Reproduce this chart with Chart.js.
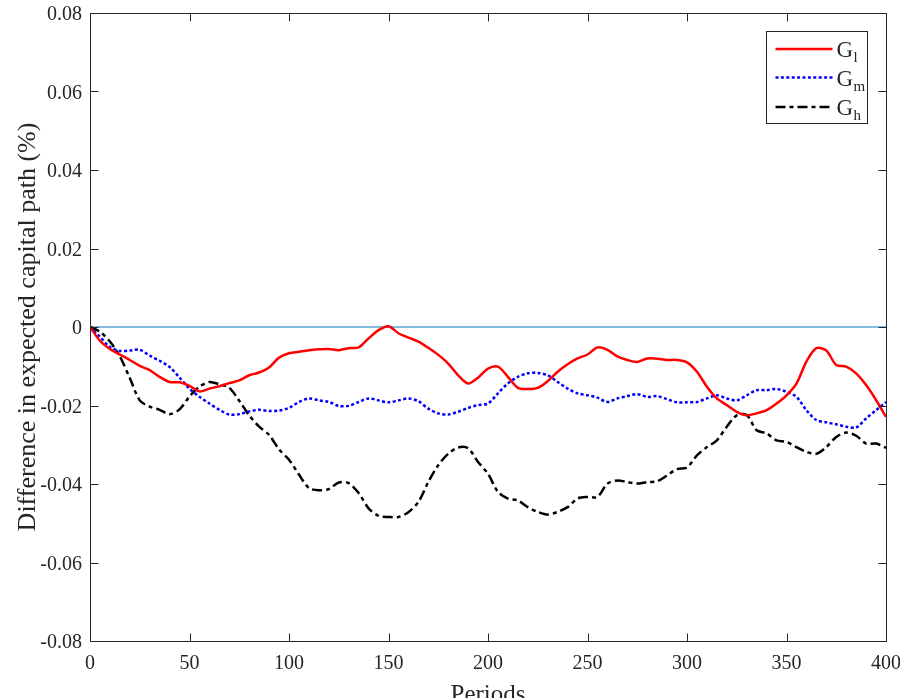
<!DOCTYPE html>
<html>
<head>
<meta charset="utf-8">
<script src="https://cdn.jsdelivr.net/npm/chart.js@4.4.1/dist/chart.umd.min.js"></script>
<style>
  html, body { margin: 0; padding: 0; width: 900px; height: 698px; overflow: hidden; background: #fff; }
  #wrap { position: absolute; left: 0; top: 0; width: 900px; height: 715px; }
</style>
</head>
<body>
<div id="wrap"><canvas id="chart"></canvas></div>
<script>
// periods on the x axis
const periods = [0, 5, 10, 15, 20, 25, 30, 35, 40, 45, 50, 55, 60, 65, 70, 75, 80, 85, 90, 95,
  100, 105, 110, 115, 120, 125, 130, 135, 140, 145, 150, 155, 160, 165, 170, 175, 180, 185, 190, 195,
  200, 205, 210, 215, 220, 225, 230, 235, 240, 245, 250, 255, 260, 265, 270, 275, 280, 285, 290, 295,
  300, 305, 310, 315, 320, 325, 330, 335, 340, 345, 350, 355, 360, 365, 370, 375, 380, 385, 390, 395, 400];

// G_l (red, solid)
const gLow = [0, -0.0035, -0.0056, -0.0070, -0.0084, -0.0099, -0.0110, -0.0127, -0.0140, -0.0141,
  -0.0150, -0.0164, -0.0157, -0.0151, -0.0143, -0.0136, -0.0123, -0.0116, -0.0103, -0.0078,
  -0.0067, -0.0063, -0.0059, -0.0057, -0.0056, -0.0059, -0.0054, -0.0052, -0.0029, -0.0008,
  0.0002, -0.0016, -0.0027, -0.0037, -0.0053, -0.0071, -0.0093, -0.0123, -0.0144, -0.0129,
  -0.0106, -0.0101, -0.0127, -0.0155, -0.0158, -0.0155, -0.0138, -0.0114, -0.0095, -0.0080,
  -0.0070, -0.0052, -0.0058, -0.0075, -0.0084, -0.0089, -0.0080, -0.0081, -0.0084, -0.0084,
  -0.0090, -0.0114, -0.0152, -0.0182, -0.0199, -0.0216, -0.0225, -0.0220, -0.0212, -0.0195,
  -0.0174, -0.0144, -0.0088, -0.0054, -0.0060, -0.0097, -0.0101, -0.0118, -0.0148, -0.0186,
  -0.0229];

// G_m (blue, dotted)
const gMid = [0, -0.0025, -0.0051, -0.0061, -0.0060, -0.0058, -0.0073, -0.0086, -0.0102, -0.0129,
  -0.0157, -0.0178, -0.0195, -0.0211, -0.0223, -0.0222, -0.0215, -0.0211, -0.0214, -0.0213,
  -0.0206, -0.0191, -0.0182, -0.0187, -0.0191, -0.0201, -0.0201, -0.0191, -0.0182, -0.0187,
  -0.0192, -0.0187, -0.0182, -0.0189, -0.0208, -0.0220, -0.0223, -0.0216, -0.0206, -0.0199,
  -0.0195, -0.0169, -0.0144, -0.0127, -0.0118, -0.0117, -0.0123, -0.0140, -0.0157, -0.0169,
  -0.0174, -0.0180, -0.0191, -0.0182, -0.0176, -0.0171, -0.0178, -0.0176, -0.0184, -0.0192,
  -0.0192, -0.0191, -0.0182, -0.0174, -0.0182, -0.0187, -0.0174, -0.0161, -0.0161, -0.0158,
  -0.0165, -0.0178, -0.0212, -0.0237, -0.0243, -0.0248, -0.0254, -0.0256, -0.0233, -0.0212,
  -0.0191];

// G_h (black, dash-dot)
const gHigh = [0, -0.0012, -0.0037, -0.0075, -0.0130, -0.0187, -0.0203, -0.0211, -0.0222, -0.0210,
  -0.0177, -0.0152, -0.0140, -0.0146, -0.0155, -0.0188, -0.0225, -0.0254, -0.0275, -0.0312,
  -0.0338, -0.0376, -0.0410, -0.0416, -0.0413, -0.0396, -0.0398, -0.0423, -0.0462, -0.0481,
  -0.0484, -0.0484, -0.0472, -0.0446, -0.0395, -0.0352, -0.0323, -0.0307, -0.0309, -0.0344,
  -0.0374, -0.0420, -0.0437, -0.0442, -0.0459, -0.0471, -0.0478, -0.0471, -0.0459, -0.0437,
  -0.0433, -0.0433, -0.0399, -0.0391, -0.0395, -0.0399, -0.0395, -0.0393, -0.0378, -0.0362,
  -0.0358, -0.0327, -0.0306, -0.0289, -0.0254, -0.0225, -0.0224, -0.0263, -0.0271, -0.0289,
  -0.0293, -0.0306, -0.0318, -0.0323, -0.0306, -0.0280, -0.0269, -0.0277, -0.0297, -0.0297,
  -0.0308];

// zero reference line
const zeroX = [0, 400];
const zeroY = [0, 0];

const legendNames = ["G", "G", "G"];
const legendSubs = ["l", "m", "h"];

const xTicks = { min: 0, max: 400, step: 50 };
const yTicks = { min: -0.08, max: 0.08, step: 0.02 };

const serif = "'Liberation Serif', 'Times New Roman', serif";
const ink = "#262626";

function pts(xs, ys) {
  return xs.map((x, i) => ({ x: x, y: ys[i] }));
}

// box round the axes, inward ticks on all four sides, and the legend
const matlabAxes = {
  id: "matlabAxes",
  afterDraw(chart) {
    const ctx = chart.ctx;
    const a = chart.chartArea;
    const xs = chart.scales.x, ys = chart.scales.y;
    const L = Math.round(a.left) + 0.5, R = Math.round(a.right) + 0.5;
    const T = Math.round(a.top) + 0.5, B = Math.round(a.bottom) + 0.5;
    const tl = 8;
    ctx.save();
    ctx.strokeStyle = ink;
    ctx.lineWidth = 1;
    ctx.setLineDash([]);
    ctx.strokeRect(L, T, R - L, B - T);
    ctx.beginPath();
    xs.ticks.forEach((t) => {
      const px = Math.round(xs.getPixelForValue(t.value)) + 0.5;
      ctx.moveTo(px, B); ctx.lineTo(px, B - tl);
      ctx.moveTo(px, T); ctx.lineTo(px, T + tl);
    });
    ys.ticks.forEach((t) => {
      const py = Math.round(ys.getPixelForValue(t.value)) + 0.5;
      ctx.moveTo(L, py); ctx.lineTo(L + tl, py);
      ctx.moveTo(R, py); ctx.lineTo(R - tl, py);
    });
    ctx.stroke();

    // legend
    const bw = 101, bh = 92;
    const bx = Math.round(a.right - 19 - bw) + 0.5;
    const by = Math.round(a.top + 18) + 0.5;
    ctx.fillStyle = "#fff";
    ctx.fillRect(bx, by, bw, bh);
    ctx.strokeStyle = ink;
    ctx.lineWidth = 1;
    ctx.strokeRect(bx, by, bw, bh);
    const rows = [17.5, 46, 75.5];
    chart.data.datasets.slice(0, 3).forEach((ds, i) => {
      const y = by + rows[i];
      ctx.save();
      ctx.strokeStyle = ds.borderColor;
      ctx.lineWidth = ds.borderWidth;
      ctx.setLineDash(ds.borderDash || []);
      ctx.beginPath();
      ctx.moveTo(bx + 9, y);
      ctx.lineTo(bx + 66, y);
      ctx.stroke();
      ctx.restore();
      ctx.fillStyle = ink;
      ctx.textAlign = "left";
      ctx.textBaseline = "alphabetic";
      ctx.font = "23px " + serif;
      ctx.fillText(legendNames[i], bx + 70, y + 8);
      const gw = ctx.measureText(legendNames[i]).width;
      ctx.font = "15px " + serif;
      ctx.fillText(legendSubs[i], bx + 70 + gw + 0.5, y + 13);
    });
    ctx.restore();
  }
};

new Chart(document.getElementById("chart"), {
  type: "line",
  data: {
    datasets: [
      {
        label: "G_l",
        data: pts(periods, gLow),
        borderColor: "#ff0000",
        borderWidth: 2.5,
        pointRadius: 0,
        tension: 0.3,
      },
      {
        label: "G_m",
        data: pts(periods, gMid),
        borderColor: "#0000ff",
        borderWidth: 2.5,
        borderDash: [3, 2.4],
        pointRadius: 0,
        tension: 0.3,
      },
      {
        label: "G_h",
        data: pts(periods, gHigh),
        borderColor: "#000000",
        borderWidth: 2.5,
        borderDash: [10, 4, 4, 4],
        pointRadius: 0,
        tension: 0.3,
      },
      {
        label: "zero",
        data: pts(zeroX, zeroY),
        borderColor: "rgba(0,114,189,0.65)",
        borderWidth: 1.5,
        pointRadius: 0,
        tension: 0,
      },
    ],
  },
  options: {
    responsive: true,
    maintainAspectRatio: false,
    animation: false,
    events: [],
    layout: { padding: { left: 0, top: 13, right: 14, bottom: 0 } },
    plugins: {
      legend: { display: false },
      tooltip: { enabled: false },
    },
    scales: {
      x: {
        type: "linear",
        min: xTicks.min,
        max: xTicks.max,
        grid: { display: false, drawTicks: false },
        border: { display: false },
        ticks: {
          stepSize: xTicks.step,
          padding: 11,
          color: ink,
          font: { family: serif, size: 20 },
          maxRotation: 0,
        },
        title: {
          display: true,
          text: "Periods",
          color: ink,
          font: { family: serif, size: 25 },
          padding: { top: 0, bottom: 5 },
        },
        afterFit(scale) {
          scale.height = 74;
          scale.paddingLeft = 0;
          scale.paddingRight = 0;
        },
      },
      y: {
        min: yTicks.min,
        max: yTicks.max,
        grid: { display: false, drawTicks: false },
        border: { display: false },
        ticks: {
          stepSize: yTicks.step,
          padding: 8,
          labelOffset: 2,
          color: ink,
          font: { family: serif, size: 20 },
          callback: (v) => (Math.abs(v) < 1e-9 ? "0" : v.toFixed(2)),
        },
        title: {
          display: true,
          text: "Difference in expected capital path (%)",
          color: ink,
          font: { family: serif, size: 26 },
          padding: { top: 13, bottom: 0 },
        },
        afterFit(scale) {
          scale.width = 90;
          scale.paddingTop = 0;
          scale.paddingBottom = 0;
        },
      },
    },
  },
  plugins: [matlabAxes],
});
</script>
</body>
</html>
